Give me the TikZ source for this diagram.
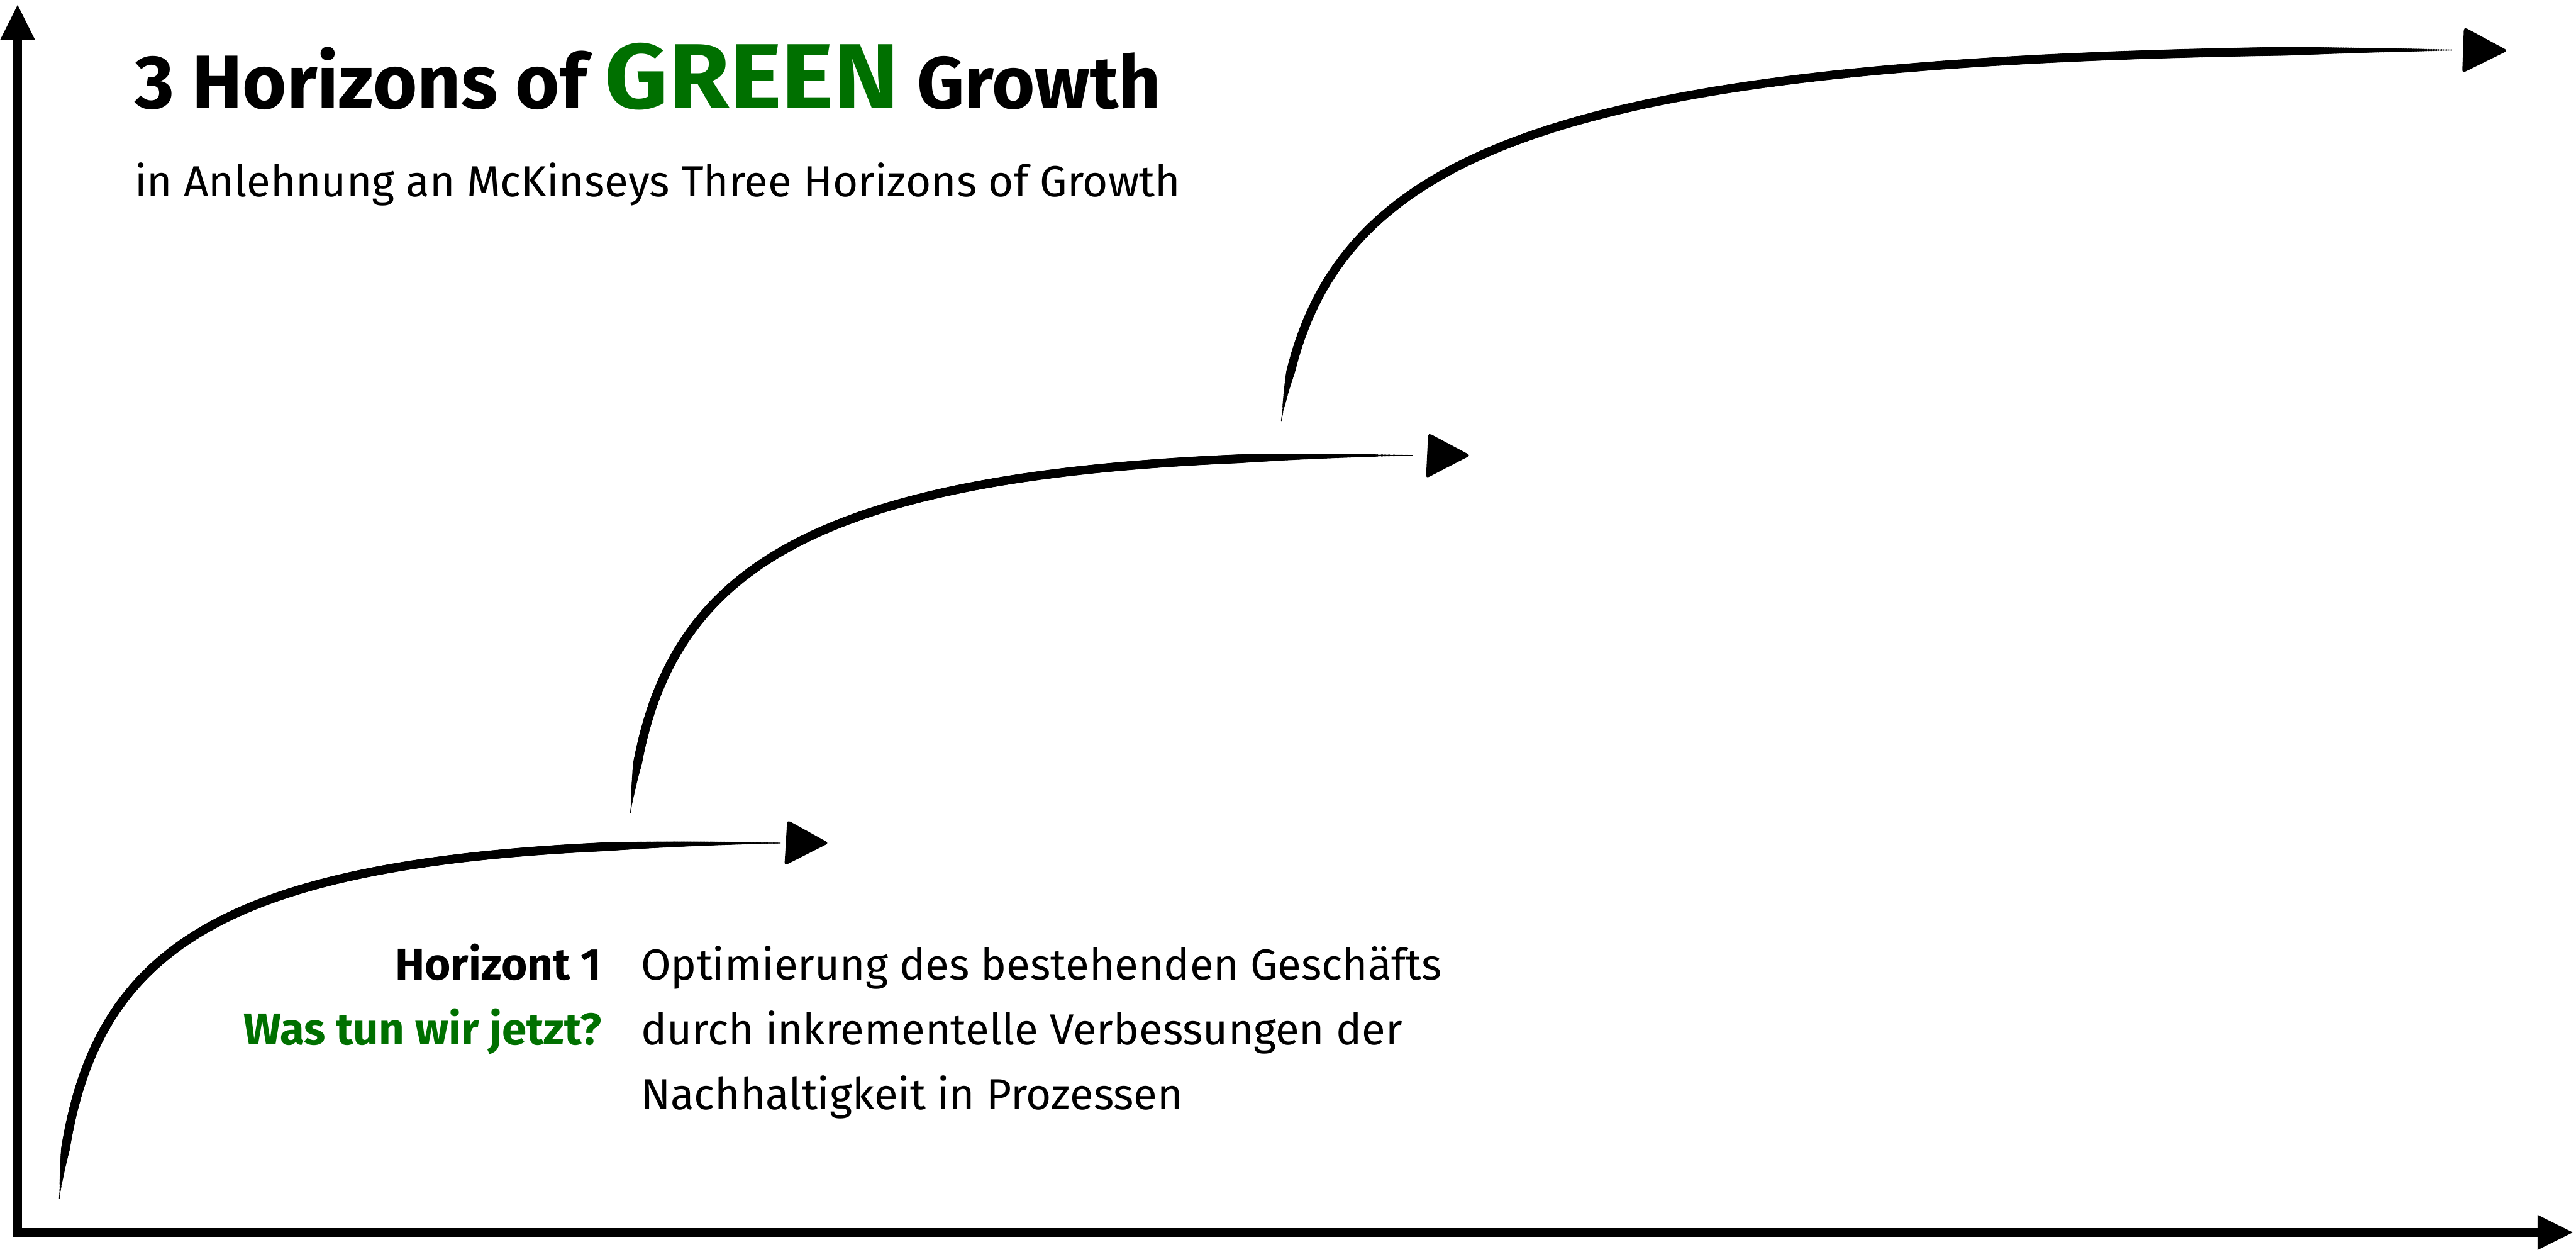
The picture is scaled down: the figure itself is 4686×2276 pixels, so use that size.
\documentclass[tikz,border=0pt]{standalone}
\usepackage{fontspec}
\setmainfont{Fira Sans}
\usetikzlibrary{calc,decorations.markings}
\definecolor{leafgreen}{RGB}{0,112,0}
\begin{document}
\begin{tikzpicture}[x=1pt,y=-1pt,
  axisline/.style={line width=16pt, line cap=butt},
  brushhead/.style={fill=black, rounded corners=6pt},
  % variable-width brush: discs along the path, pointed start, thinning tail
  brush/.style={decorate, decoration={markings,
    mark=between positions 0 and 1 step 0.0012 with {%
      \pgfmathsetmacro\dd{\pgfkeysvalueof{/pgf/decoration/mark info/distance from start}}%
      \pgfmathsetmacro\ee{\pgfdecoratedpathlength-\dd}%
      \pgfmathsetmacro\rr{max(0.7,8*min(1,\dd/90)*min(1,max(0.08,\ee/340)))}%
      \fill[black] (0,0) circle[radius=\rr pt];}}},
  brushcore/.style={draw=black, line width=1.4pt},
  label/.style={inner sep=0pt, outer sep=0pt, font=\fontsize{79}{96}\selectfont},
  boldlabel/.style={inner sep=0pt, outer sep=0pt, font=\fontsize{81}{96}\selectfont\bfseries}]
\useasboundingbox (0,0) rectangle (4686,2276);
\fill[white] (0,0) rectangle (4686,2276);

% axes
\coordinate (origin) at (32,2241);
\coordinate (ytop) at (32,72);
\coordinate (xend) at (4616,2241);
\draw[axisline] ($(origin)+(0,8)$) -- (ytop);
\draw[axisline] ($(origin)+(-8,0)$) -- (xend);
\fill (0.5,72) -- (32,9) -- (63.5,72) -- cycle;
\fill (4616,2209) -- (4680,2241) -- (4616,2273) -- cycle;

% horizon 1
\coordinate (h1a) at (108,2179);
\coordinate (h1b) at (150,1700);
\coordinate (h1c) at (400,1533);
\coordinate (h1d) at (1420,1533);
\path[brush] (h1a) .. controls (h1b) and (h1c) .. (h1d);
\path[brushcore] (h1a) .. controls (h1b) and (h1c) .. (h1d);
\fill[brushhead] (1432,1491) -- (1508,1533) -- (1427,1574) -- cycle;

% horizon 2
\coordinate (h2a) at (1147,1478);
\coordinate (h2b) at (1193,1020);
\coordinate (h2c) at (1464,828);
\coordinate (h2d) at (2570,828);
\path[brush] (h2a) .. controls (h2b) and (h2c) .. (h2d);
\path[brushcore] (h2a) .. controls (h2b) and (h2c) .. (h2d);
\fill[brushhead] (2598,787) -- (2675,828) -- (2594,870) -- cycle;

% horizon 3
\coordinate (h3a) at (2331,765);
\coordinate (h3b) at (2399,266);
\coordinate (h3c) at (2806,91);
\coordinate (h3d) at (4460,91);
\path[brush] (h3a) .. controls (h3b) and (h3c) .. (h3d);
\path[brushcore] (h3a) .. controls (h3b) and (h3c) .. (h3d);
\fill[brushhead] (4482,49) -- (4562,92) -- (4479,133) -- cycle;

% headings
\node[label, anchor=base west, font=\bfseries] (title) at (245,197)
  {\fontsize{138}{160}\selectfont 3 Horizons of
   {\fontsize{168}{180}\selectfont\addfontfeature{FakeStretch=1.07}\color{leafgreen}GREEN}
   {\fontsize{134}{160}\selectfont Growth}};
\node[label, anchor=base west] (subtitle) at (245,357)
  {in Anlehnung an McKinseys Three Horizons of Growth};

% horizon 1 description
\node[boldlabel, anchor=base east] (hname) at (1094,1782) {Horizont 1};
\node[boldlabel, anchor=base east, text=leafgreen] (hq) at (1094,1900) {Was tun wir jetzt?};
\node[label, anchor=base west] (d1) at (1166,1782) {Optimierung des bestehenden Geschäfts};
\node[label, anchor=base west] (d2) at (1166,1900) {durch inkrementelle Verbessungen der};
\node[label, anchor=base west] (d3) at (1166,2017) {Nachhaltigkeit in Prozessen};
\end{tikzpicture}
\end{document}
